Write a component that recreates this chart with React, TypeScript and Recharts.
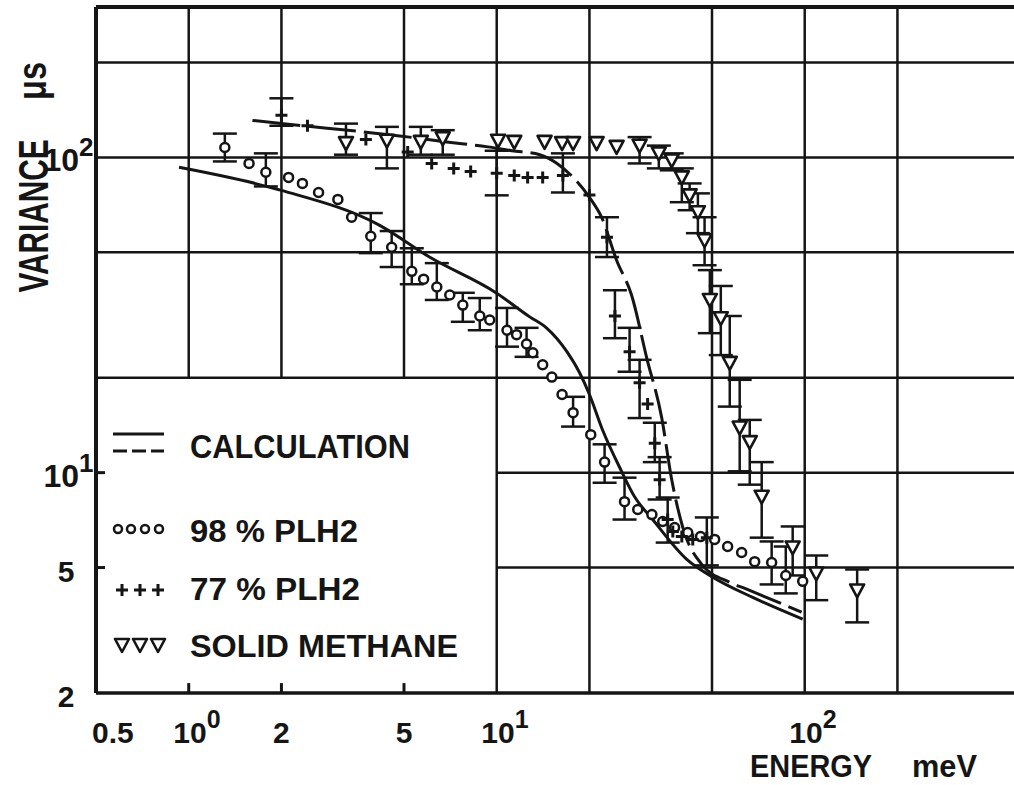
import React from "react";
import { ComposedChart, XAxis, YAxis, Line, Scatter, ErrorBar, ReferenceLine } from "recharts";

const INK = "#151515";
const FONT = "'Liberation Sans', Arial, sans-serif";

// axes
const xDomain = [0.5, 500];
const yDomain = [2, 300];
const xTicks = [0.5, 1, 2, 5, 10, 100];
const xTickBase = ["0.5", "10", "2", "5", "10", "10"];
const xTickExp = ["", "0", "", "", "1", "2"];
const yTicks = [2, 5, 10, 100];
const yTickBase = ["2", "5", "10", "10"];
const yTickExp = ["", "", "1", "2"];

// grid (the lower-left corner is left open for the legend)
const gridX = [1, 2, 5, 10, 20, 50, 100, 200];
const gridY = [5, 10, 20, 50, 100, 200];
const legendCornerX = 10;
const legendCornerY = 20;

// 98 % PLH2 (circles)
const energy98 = [1.31, 1.57, 1.78, 2.11, 2.34, 2.64, 3.05, 3.38, 3.9, 4.56, 5.3, 5.79, 6.39, 7.04, 7.76, 8.81, 9.49, 10.8, 11.6, 12.5, 13.1, 14.1, 15.1, 16.3, 17.7, 20.2, 22.4, 26.0, 28.7, 31.9, 34.6, 37.8, 41.7, 45.9, 51.0, 56.2, 62.4, 68.8, 78.1, 86.8, 98.5];
const var98 = [107.5, 95.7, 89.7, 86.4, 82.7, 77.4, 73.6, 64.6, 56.2, 51.9, 43.5, 41.1, 38.8, 36.6, 34.0, 31.4, 30.5, 28.3, 27.4, 25.6, 24.0, 22.0, 20.1, 17.7, 15.5, 13.2, 10.8, 8.09, 7.64, 7.36, 7.0, 6.7, 6.46, 6.27, 6.14, 5.83, 5.58, 5.22, 5.19, 4.72, 4.52];
const low98 = [97.1, null, 80.9, null, null, null, null, null, 49.7, 44.9, 39.6, null, 35.3, null, 30.1, 28.3, null, 25.1, null, 23.3, null, null, null, null, 14.0, null, 9.29, 7.1, null, null, null, null, null, null, null, null, null, null, 4.42, 4.14, null];
const high98 = [119, null, 103, null, null, null, null, null, 66.6, 58.4, 51.5, null, 46.2, null, 37.2, 35.8, null, 33.3, null, 28.8, null, null, null, null, 17.4, null, 12.3, 9.64, null, null, null, null, null, null, null, null, null, null, 6.05, 5.83, null];

// 77 % PLH2 (crosses)
const energy77 = [2.0, 2.43, 3.76, 5.14, 6.15, 7.25, 8.23, 10.0, 11.4, 12.6, 14.1, 16.4, 20.0, 22.8, 24.2, 27.0, 29.1, 30.9, 32.6, 33.8, 35.9, 37.3, 39.9, 43.3, 48.1];
const var77 = [136, 126, 114, 104, 95.7, 92.3, 90.3, 89.0, 87.7, 86.4, 86.4, 87.7, 76.0, 55.8, 31.4, 24.2, 19.3, 16.5, 12.4, 9.5, 7.1, 6.51, 6.27, 6.14, 6.22];
const low77 = [126, null, null, null, null, null, null, 75.8, null, null, null, 77.4, null, 48.3, 26.7, 20.9, 14.9, null, 10.8, 8.22, 6.0, null, null, null, 5.08];
const high77 = [154, null, null, null, null, null, null, 105, null, null, null, 103, null, 64.6, 37.9, 28.8, 22.8, null, 14.4, 11.2, 8.34, null, null, null, 7.21];

// solid methane (triangles)
const energyCH4 = [3.24, 4.4, 5.67, 6.68, 10.1, 11.4, 14.3, 16.3, 17.7, 21.1, 24.5, 29.1, 33.6, 37.0, 39.9, 42.3, 45.0, 47.3, 49.2, 53.4, 57.1, 61.5, 66.3, 72.5, 91.4, 109, 148];
const varCH4 = [111, 113, 112, 115, 113, 112, 112, 111, 111, 111, 108, 109, 103, 97.8, 86.4, 75.8, 67.0, 54.6, 35.3, 30.9, 22.3, 13.9, 12.5, 8.39, 5.79, 4.79, 4.23];
const lowCH4 = [102, 92.3, 102, 102, null, null, null, null, null, null, null, 95.7, 92.3, 91.0, 72.1, 68.0, 57.5, 45.5, 27.7, 23.6, 16.2, 10.1, 9.16, 6.22, 4.72, 3.94, 3.35];
const highCH4 = [128, 125, 125, 122, null, null, null, null, null, null, null, 116, 109, 103, 92.3, 82.7, 76.9, 64.6, 43.9, 39.1, 31.4, 19.7, 14.7, 10.8, 6.75, 5.46, 4.93];

// calculations
const calcSolidE = [0.93, 2.0, 4.17, 6.05, 10.0, 12.8, 14.5, 16.9, 18.6, 20.0, 22.1, 25.3, 28.0, 32.1, 41.4, 50.3, 67.8, 98.5];
const calcSolidV = [93, 78.6, 60.9, 48.3, 37.1, 31.2, 28.8, 24.2, 20.7, 17.7, 13.6, 10.2, 8.4, 7.1, 5.31, 4.66, 4.02, 3.43];
const calcDashE = [1.61, 2.18, 4.84, 6.88, 9.35, 11.2, 13.8, 15.7, 17.7, 20.0, 21.9, 24.5, 27.4, 30.7, 34.3, 37.0, 40.2, 46.3, 57.1, 64.8, 97.7];
const calcDashV = [131, 127, 117, 112, 108, 105, 102, 95.7, 86.4, 74.7, 64.6, 47.2, 36.6, 23.1, 15.0, 9.5, 6.7, 5.12, 4.49, 4.27, 3.61];

const toPoints = (xs: number[], ys: number[], lo?: (number | null)[], hi?: (number | null)[]) =>
  xs.map((x, i) => {
    const l = lo ? lo[i] : null;
    const h = hi ? hi[i] : null;
    return { x, y: ys[i], err: l != null && h != null ? [ys[i] - l, h - ys[i]] : undefined };
  });

const data98 = toPoints(energy98, var98, low98, high98);
const data77 = toPoints(energy77, var77, low77, high77);
const dataCH4 = toPoints(energyCH4, varCH4, lowCH4, highCH4);
const solidCurve = toPoints(calcSolidE, calcSolidV);
const dashCurve = toPoints(calcDashE, calcDashV);

const CircleMark = (p: any) => (
  <circle cx={p.cx} cy={p.cy} r={4.5} fill="#fff" stroke={INK} strokeWidth={2.5} />
);
const PlusMark = (p: any) => (
  <path d={`M${p.cx - 6},${p.cy}H${p.cx + 6}M${p.cx},${p.cy - 6}V${p.cy + 6}`} stroke={INK} strokeWidth={3} />
);
const TriMark = (p: any) => (
  <path
    d={`M${p.cx - 7},${p.cy - 6}L${p.cx + 7},${p.cy - 6}L${p.cx},${p.cy + 7}Z`}
    fill="#fff"
    stroke={INK}
    strokeWidth={2.6}
    strokeLinejoin="round"
  />
);

const XTick = (props: any) => {
  const i = xTicks.indexOf(props.payload.value);
  if (i < 0) return null;
  const x = props.x;
  const base = 743;
  if (xTickExp[i]) {
    return (
      <g fontFamily={FONT} fontWeight="bold" fill={INK}>
        <text x={x + 18} y={base} fontSize={30} textAnchor="end">{xTickBase[i]}</text>
        <text x={x + 18} y={base - 15} fontSize={25} textAnchor="start">{xTickExp[i]}</text>
      </g>
    );
  }
  const first = i === 0;
  return (
    <text x={first ? x - 4 : x} y={base} fontFamily={FONT} fontWeight="bold" fontSize={30} fill={INK} textAnchor={first ? "start" : "middle"}>
      {xTickBase[i]}
    </text>
  );
};

const YTick = (props: any) => {
  const i = yTicks.indexOf(props.payload.value);
  if (i < 0) return null;
  const base = props.y + 14;
  if (yTickExp[i]) {
    return (
      <g fontFamily={FONT} fontWeight="bold" fill={INK}>
        <text x={79} y={base} fontSize={32} textAnchor="end">{yTickBase[i]}</text>
        <text x={79} y={base - 15} fontSize={26} textAnchor="start">{yTickExp[i]}</text>
      </g>
    );
  }
  return (
    <text x={66} y={base} fontFamily={FONT} fontWeight="bold" fontSize={30} fill={INK} textAnchor="middle">
      {yTickBase[i]}
    </text>
  );
};

const Overlay = () => (
  <svg width={1014} height={785} style={{ position: "absolute", left: 0, top: 0, pointerEvents: "none" }}>
    <g fontFamily={FONT} fontWeight="bold" fill={INK}>
      <text x={48} y={216} fontSize={42} textAnchor="middle" textLength={153} lengthAdjust="spacingAndGlyphs" transform="rotate(-90 48 216)">
        VARIANCE
      </text>
      <text x={46} y={81} fontSize={40} textAnchor="middle" textLength={38} lengthAdjust="spacingAndGlyphs" transform="rotate(-90 46 81)">
        μs
      </text>
      <text x={750} y={777} fontSize={31} textLength={122} lengthAdjust="spacingAndGlyphs">ENERGY</text>
      <text x={912} y={777} fontSize={31} textLength={65} lengthAdjust="spacingAndGlyphs">meV</text>

      <line x1={113} x2={164} y1={434} y2={434} stroke={INK} strokeWidth={3} />
      <line x1={113} x2={164} y1={451} y2={451} stroke={INK} strokeWidth={3} strokeDasharray="14 5" />
      <text x={190} y={458} fontSize={34} textLength={220} lengthAdjust="spacingAndGlyphs">CALCULATION</text>

      {[118, 131, 145, 159].map((cx) => (
        <circle key={cx} cx={cx} cy={529} r={4} fill="#fff" stroke={INK} strokeWidth={2.5} />
      ))}
      <text x={190} y={542} fontSize={32} textLength={168} lengthAdjust="spacingAndGlyphs">98 % PLH2</text>

      {[122, 140, 158].map((cx) => (
        <PlusMark key={cx} cx={cx} cy={590} />
      ))}
      <text x={190} y={600} fontSize={32} textLength={170} lengthAdjust="spacingAndGlyphs">77 % PLH2</text>

      {[122, 140, 158].map((cx) => (
        <TriMark key={cx} cx={cx} cy={645} />
      ))}
      <text x={190} y={657} fontSize={32} textLength={268} lengthAdjust="spacingAndGlyphs">SOLID METHANE</text>
    </g>
  </svg>
);

export default function App() {
  return (
    <div style={{ position: "absolute", left: 0, top: 0, width: 1014, height: 785, overflow: "hidden", background: "#fff" }}>
      <ComposedChart width={1040} height={785} margin={{ top: 7, right: 20, bottom: 0, left: 0 }}>
        <XAxis
          dataKey="x"
          type="number"
          scale="log"
          domain={xDomain}
          allowDataOverflow
          ticks={xTicks}
          interval={0}
          height={92}
          tickLine={false}
          axisLine={{ stroke: INK, strokeWidth: 3.5 }}
          tick={XTick}
        />
        <YAxis
          dataKey="y"
          type="number"
          scale="log"
          domain={yDomain}
          allowDataOverflow
          ticks={yTicks}
          interval={0}
          width={96}
          tickLine={false}
          axisLine={{ stroke: INK, strokeWidth: 4 }}
          tick={YTick}
        />

        {gridX.map((v) => (
          <ReferenceLine
            key={"gx" + v}
            segment={[{ x: v, y: v < legendCornerX ? legendCornerY : yDomain[0] }, { x: v, y: yDomain[1] }]}
            stroke={INK}
            strokeWidth={2.5}
            ifOverflow="visible"
          />
        ))}
        {gridY.map((v) => (
          <ReferenceLine
            key={"gy" + v}
            segment={[{ x: v < legendCornerY ? legendCornerX : xDomain[0], y: v }, { x: xDomain[1], y: v }]}
            stroke={INK}
            strokeWidth={2.5}
            ifOverflow="visible"
          />
        ))}
        {gridX.filter((v) => v < legendCornerX).map((v) => (
          <ReferenceLine key={"sx" + v} segment={[{ x: v, y: 2 }, { x: v, y: 2.15 }]} stroke={INK} strokeWidth={3} ifOverflow="visible" />
        ))}
        {gridY.filter((v) => v < legendCornerY).map((v) => (
          <ReferenceLine key={"sy" + v} segment={[{ x: 0.5, y: v }, { x: 0.535, y: v }]} stroke={INK} strokeWidth={3} ifOverflow="visible" />
        ))}
        <ReferenceLine y={yDomain[1]} stroke={INK} strokeWidth={4} ifOverflow="visible" />

        <Line data={solidCurve} dataKey="y" type="monotone" stroke={INK} strokeWidth={3} dot={false} isAnimationActive={false} />
        <Line data={dashCurve} dataKey="y" type="monotone" stroke={INK} strokeWidth={3} strokeDasharray="48 8" dot={false} isAnimationActive={false} />

        <Scatter data={data98} dataKey="y" shape={CircleMark} isAnimationActive={false}>
          <ErrorBar dataKey="err" direction="y" width={12} strokeWidth={2.5} stroke={INK} />
        </Scatter>
        <Scatter data={data77} dataKey="y" shape={PlusMark} isAnimationActive={false}>
          <ErrorBar dataKey="err" direction="y" width={12} strokeWidth={2.5} stroke={INK} />
        </Scatter>
        <Scatter data={dataCH4} dataKey="y" shape={TriMark} isAnimationActive={false}>
          <ErrorBar dataKey="err" direction="y" width={12} strokeWidth={2.5} stroke={INK} />
        </Scatter>
      </ComposedChart>
      <Overlay />
    </div>
  );
}
